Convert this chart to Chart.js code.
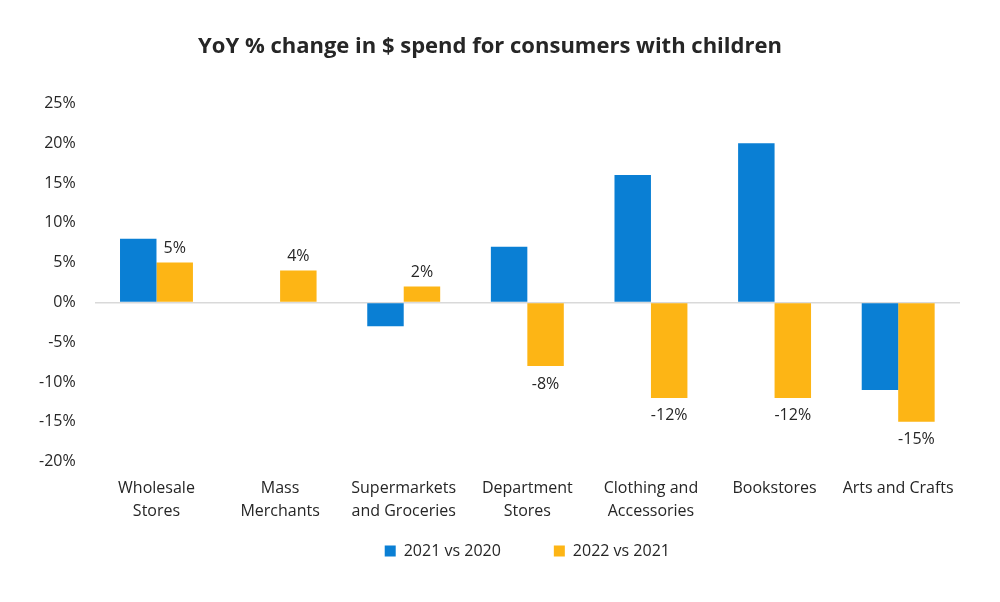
<!DOCTYPE html>
<html>
<head>
<meta charset="utf-8">
<script src="https://cdn.jsdelivr.net/npm/chart.js@4"></script>
<style>
  html, body { margin: 0; padding: 0; background: #fff; }
  #wrap { width: 1000px; height: 602px; }
</style>
</head>
<body>
<div id="wrap"><canvas id="chart"></canvas></div>
<script>
const categories = [
    ['Wholesale', 'Stores'],
    ['Mass', 'Merchants'],
    ['Supermarkets', 'and Groceries'],
    ['Department', 'Stores'],
    ['Clothing and', 'Accessories'],
    ['Bookstores'],
    ['Arts and Crafts']
];
const seriesNames = ['2021 vs 2020', '2022 vs 2021'];
const spend2021 = [8, 0, -3, 7, 16, 20, -11];
const spend2022 = [5, 4, 2, -8, -12, -12, -15];
const yTicks = { min: -20, max: 25, step: 5 };

const FONT = "'Open Sans', 'Noto Sans', sans-serif";

// labels only on the second series, above positive / below negative bars
const valueLabels = {
    id: 'valueLabels',
    afterDatasetsDraw(chart) {
        const ctx = chart.ctx;
        const meta = chart.getDatasetMeta(1);
        ctx.save();
        ctx.font = '16px ' + FONT;
        ctx.fillStyle = '#262626';
        ctx.textAlign = 'center';
        meta.data.forEach((bar, i) => {
            const v = spend2022[i];
            if (v >= 0) {
                ctx.textBaseline = 'bottom';
                ctx.fillText(v + '%', bar.x, bar.y - 6);
            } else {
                ctx.textBaseline = 'top';
                ctx.fillText(v + '%', bar.x, bar.y + 10);
            }
        });
        ctx.restore();
    }
};

const ctx = document.getElementById('chart').getContext('2d');
new Chart(ctx, {
    type: 'bar',
    data: {
        labels: categories,
        datasets: [
            { label: seriesNames[0], data: spend2021, backgroundColor: '#0A7FD4' },
            { label: seriesNames[1], data: spend2022, backgroundColor: '#FDB515' }
        ]
    },
    options: {
        responsive: true,
        maintainAspectRatio: false,
        animation: false,
        categoryPercentage: 0.59,
        barPercentage: 1,
        layout: { padding: { left: 20, right: 40, top: 20, bottom: 33 } },
        plugins: {
            title: {
                display: true,
                text: 'YoY % change in $ spend for consumers with children',
                color: '#262626',
                font: { family: FONT, size: 22, weight: 'bold' },
                padding: { top: 14, bottom: 43 }
            },
            legend: {
                position: 'bottom',
                fullSize: false,
                labels: {
                    color: '#262626',
                    font: { family: FONT, size: 16 },
                    boxWidth: 11,
                    boxHeight: 11,
                    padding: 13,
                    // wider gap between the two entries
                    generateLabels: chart => {
                        const items = Chart.defaults.plugins.legend.labels.generateLabels(chart);
                        items[0].text += '\u2003\u2003\u2002';
                        return items;
                    }
                },
                onClick: null
            },
            tooltip: { enabled: false }
        },
        scales: {
            x: {
                grid: { display: false },
                border: { display: false },
                ticks: {
                    color: '#262626',
                    font: { family: FONT, size: 16, lineHeight: 1.45 },
                    maxRotation: 0,
                    padding: 7
                }
            },
            y: {
                min: yTicks.min,
                max: yTicks.max,
                border: { display: false },
                grid: {
                    drawTicks: false,
                    color: c => c.tick && c.tick.value === 0 ? '#D9D9D9' : 'rgba(0,0,0,0)',
                    lineWidth: 1.5
                },
                ticks: {
                    stepSize: yTicks.step,
                    color: '#262626',
                    font: { family: FONT, size: 16 },
                    padding: 19,
                    callback: v => v + '%'
                }
            }
        }
    },
    plugins: [valueLabels]
});
</script>
</body>
</html>
